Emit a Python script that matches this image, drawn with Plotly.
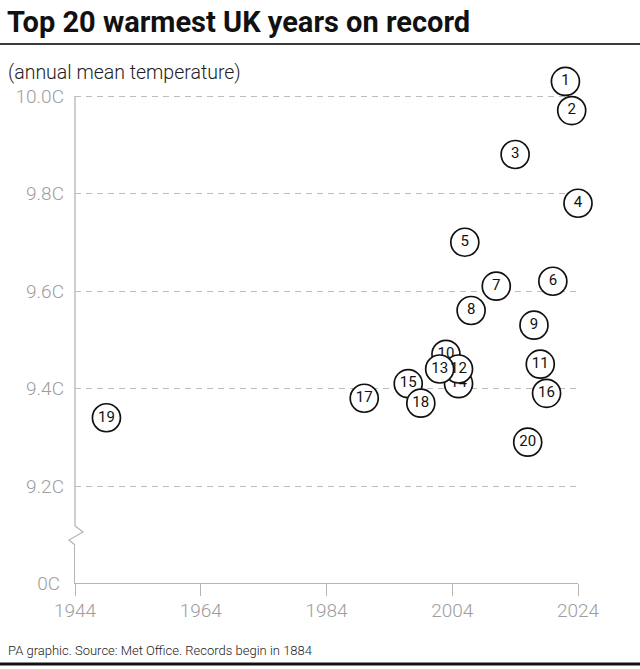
import plotly.graph_objects as go

# ---- data ----
ranks = list(range(1, 21))
years = [2022, 2023, 2014, 2024, 2006, 2020, 2011, 2007, 2017, 2003,
         2018, 2005, 2002, 2005, 1997, 2019, 1990, 1999, 1949, 2016]
temps = [10.03, 9.97, 9.88, 9.78, 9.70, 9.62, 9.61, 9.56, 9.53, 9.47,
         9.45, 9.44, 9.44, 9.41, 9.41, 9.39, 9.38, 9.37, 9.34, 9.29]
# circles partly hidden behind neighbours in the reference (drawn first)
behind = [10, 14, 15]

x_ticks = [1944, 1964, 1984, 2004, 2024]
y_ticks = [9.2, 9.4, 9.6, 9.8, 10.0]
y_tick_labels = ["9.2C", "9.4C", "9.6C", "9.8C", "10.0C"]
zero_ticks = [0]
zero_labels = ["0C"]
y_axis_top = 10.0

title = "Top 20 warmest UK years on record"
subtitle = "(annual mean temperature)"
footer = "PA graphic. Source: Met Office. Records begin in 1884"

# ---- geometry (pixels) ----
W, H = 640, 669
L, R, T, B = 75, 62, 74, 86
PW, PH = W - L - R, H - T - B
PX_PER_DEG = 487.5
Y10 = 96          # pixel row of 10.0C
TOP_END = 526     # pixel row where upper axis stops (break)
BOT_START = 545   # pixel row where lower axis resumes


def xp(px):
    return (px - L) / PW


def yp(py):
    return (H - B - py) / PH


top_range = [10 - (TOP_END - Y10) / PX_PER_DEG, 10 + (Y10 - T) / PX_PER_DEG]

AX = "#b5b5b5"
TICKFONT = dict(family="Roboto", size=19, color="#9d9d9d", weight=300)

fig = go.Figure()
groups = [[r for r in ranks if r in behind], [r for r in ranks if r not in behind]]
for grp in groups:
    idx = [r - 1 for r in grp]
    fig.add_trace(go.Scatter(
        x=[years[i] for i in idx], y=[temps[i] for i in idx],
        text=[str(ranks[i]) for i in idx],
        mode="markers+text",
        textposition="middle center",
        textfont=dict(family="Roboto", size=15, color="#111111"),
        marker=dict(symbol="circle", size=28, color="white",
                    line=dict(color="#111111", width=1.7)),
        cliponaxis=False, hoverinfo="skip", showlegend=False,
        xaxis="x", yaxis="y",
    ))
# empty trace so the lower (0C) panel exists
fig.add_trace(go.Scatter(x=[None], y=[None], xaxis="x", yaxis="y2",
                         mode="markers", showlegend=False, hoverinfo="skip"))

fig.update_layout(
    width=W, height=H,
    margin=dict(l=L, r=R, t=T, b=B),
    paper_bgcolor="white", plot_bgcolor="white",
    xaxis=dict(domain=[0, 1], range=[1944, 2024], anchor="y2",
               tickvals=x_ticks, ticks="outside", ticklen=12, tickwidth=1,
               tickcolor=AX, showline=True, linecolor=AX, linewidth=1.3,
               showgrid=False, zeroline=False, tickfont=TICKFONT,
               ticklabelstandoff=-2),
    yaxis=dict(domain=[yp(TOP_END), 1], range=top_range, anchor="x",
               tickvals=y_ticks, ticktext=y_tick_labels, ticks="",
               showline=False,
               showgrid=True, gridcolor="#bdbdbd", gridwidth=1,
               griddash="6px,5px", zeroline=False, tickfont=TICKFONT,
               ticklabelstandoff=10),
    yaxis2=dict(domain=[0, yp(BOT_START)], range=[0, 1], anchor="x",
                tickvals=zero_ticks, ticktext=zero_labels, ticks="",
                showline=True, linecolor=AX, linewidth=1.3,
                showgrid=False, zeroline=False, tickfont=TICKFONT,
                ticklabelstandoff=10),
)

# upper y-axis line, from the break up to 10.0C
fig.add_shape(type="line", xref="paper", yref="y", x0=0, x1=0,
              y0=top_range[0], y1=y_axis_top, line=dict(color=AX, width=1.3),
              layer="below")

# axis break zigzag
zz = [(75, TOP_END), (83, 532), (69, 540), (75, BOT_START)]
path = "M " + " L ".join(f"{xp(a)},{yp(b)}" for a, b in zz)
fig.add_shape(type="path", path=path, xref="paper", yref="paper",
              line=dict(color=AX, width=1.3))

# rule under title and bottom rule
fig.add_shape(type="line", xref="paper", yref="paper",
              x0=xp(0), x1=xp(W), y0=yp(44), y1=yp(44),
              line=dict(color="#3a3a3a", width=2))
fig.add_shape(type="line", xref="paper", yref="paper",
              x0=xp(0), x1=xp(W), y0=yp(664), y1=yp(664),
              line=dict(color="#111111", width=3))

fig.add_annotation(text=title, xref="paper", yref="paper", x=xp(5), y=yp(22),
                   xanchor="left", yanchor="middle", showarrow=False,
                   font=dict(family="Roboto", size=29, color="#111111", weight=700))
fig.add_annotation(text=subtitle, xref="paper", yref="paper", x=xp(6), y=yp(72),
                   xanchor="left", yanchor="middle", showarrow=False,
                   font=dict(family="Roboto", size=19.5, color="#222222", weight=300))
fig.add_annotation(text=footer, xref="paper", yref="paper", x=xp(6), y=yp(650),
                   xanchor="left", yanchor="middle", showarrow=False,
                   font=dict(family="Roboto", size=13, color="#222222", weight=300))

fig.write_html("out.html", config={"displayModeBar": False},
               post_script="document.body.style.margin='0';")
